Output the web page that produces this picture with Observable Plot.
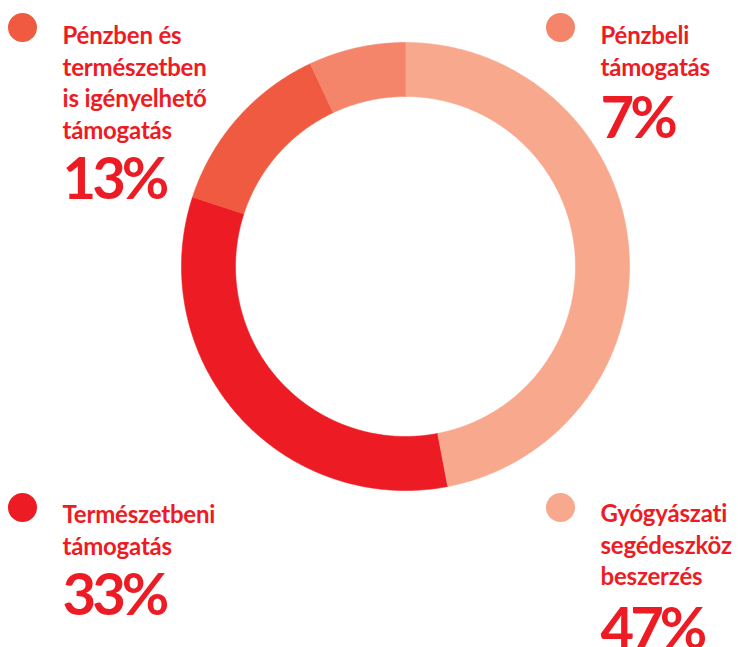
<!DOCTYPE html>
<html><head><meta charset="utf-8">
<script src="https://cdn.jsdelivr.net/npm/d3@7"></script>
<script src="https://cdn.jsdelivr.net/npm/@observablehq/plot@0.6"></script>
<style>
body{margin:0;background:#fff}
svg{display:block}
</style>
</head><body><div id="chart"></div>
<script>
const categories = ["Gyógyászati segédeszköz beszerzés","Természetbeni támogatás","Pénzben és természetben is igényelhető támogatás","Pénzbeli támogatás"];
const labelLines = ["Gyógyászati\nsegédeszköz\nbeszerzés","Természetbeni\ntámogatás","Pénzben és\ntermészetben\nis igényelhető\ntámogatás","Pénzbeli\ntámogatás"];
const values = [47, 33, 13, 7];
const percentLabels = ["47%", "33%", "13%", "7%"];
const colors = ["#F8A88C", "#ED1C24", "#F05A40", "#F4846A"];
const textColor = "#ED1C24";

const W = 738, H = 647;
const cx = 405, cy = 266, R = 224, R0 = 170;
const FS = 24, LH = 1.32, PFS = 58;

// layout of each legend block (dot, text, first-line baseline, percent baseline)
const layout = [
  {dx: 560, dy: 507, tx: 600, base: 520, pbase: 648},
  {dx: 22,  dy: 507, tx: 62,  base: 521, pbase: 614},
  {dx: 22,  dy: 27,  tx: 62,  base: 42,  pbase: 198},
  {dx: 560, dy: 27,  tx: 600, base: 42,  pbase: 137}
];

const arcs = d3.pie().sort(null).value(d => d)(values);
const ring = [];
arcs.forEach((s, i) => {
  const n = Math.max(12, Math.ceil((s.endAngle - s.startAngle) / (Math.PI / 360)));
  for (let k = 0; k <= n; k++) {
    const a = s.startAngle + (s.endAngle - s.startAngle) * k / n;
    ring.push({cat: categories[i], x: cx + R * Math.sin(a), y: cy - R * Math.cos(a)});
  }
  for (let k = n; k >= 0; k--) {
    const a = s.startAngle + (s.endAngle - s.startAngle) * k / n;
    ring.push({cat: categories[i], x: cx + R0 * Math.sin(a), y: cy - R0 * Math.cos(a)});
  }
});

const blocks = categories.map((c, i) => ({
  cat: c, lines: labelLines[i], pct: percentLabels[i], ...layout[i]
}));

const chart = Plot.plot({
  width: W, height: H,
  margin: 0,
  x: {type: "linear", domain: [0, W], range: [0, W], axis: null},
  y: {type: "linear", domain: [0, H], range: [0, H], axis: null},
  color: {domain: categories, range: colors},
  style: {fontFamily: "Lato, sans-serif", background: "#fff"},
  marks: [
    Plot.line(ring, {x: "x", y: "y", z: "cat", fill: "cat", stroke: "cat", strokeWidth: 0.6, curve: "linear"}),
    Plot.dot(blocks, {x: "dx", y: "dy", r: 14.5, fill: "cat", stroke: null}),
    Plot.text(blocks, {x: "tx", y: d => d.base - (0.71 + (LH - 1) / 2) * FS, text: "lines", textAnchor: "start", lineAnchor: "top",
      lineHeight: LH, fontSize: FS, fontWeight: "bold", fill: textColor}),
    Plot.text(blocks, {x: "tx", y: d => d.pbase - 0.71 * PFS, text: "pct", textAnchor: "start", lineAnchor: "top",
      fontSize: PFS, fontWeight: "bold", fill: textColor})
  ]
});
d3.select(chart).selectAll("text").filter(function() { return /%$/.test(this.textContent); })
  .style("letter-spacing", "-4px");
d3.select(chart).selectAll("text").filter(function() { return !/%$/.test(this.textContent); })
  .style("letter-spacing", "-0.2px");
document.getElementById("chart").appendChild(chart);
</script>
</body></html>
